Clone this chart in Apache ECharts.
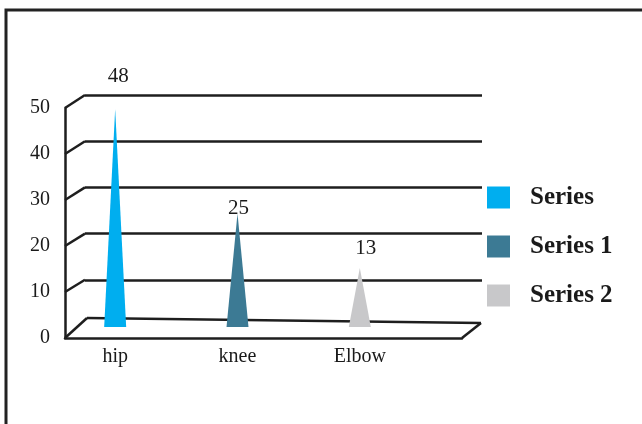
<!DOCTYPE html>
<html>
<head>
<meta charset="utf-8">
<script src="https://cdn.jsdelivr.net/npm/echarts@6/dist/echarts.min.js"></script>
<style>
  html, body { margin: 0; padding: 0; background: #fff; }
  #chart { width: 642px; height: 424px; }
</style>
</head>
<body>
<div id="chart"></div>
<script>
// data
const categories = ['hip', 'knee', 'Elbow'];
const values = [48, 25, 13];
const seriesNames = ['Series', 'Series 1', 'Series 2'];
const colors = ['#00aeef', '#3c7a94', '#c8c8ca'];
const yTicks = [0, 10, 20, 30, 40, 50];

// where the value text sits next to each tip
const labelLift = [22, -5, 9];
const labelShift = [3, 1, 6];

const serif = '"Liberation Serif", "Times New Roman", serif';
const lineColor = '#1e1e1e';
const textColor = '#1a1a1a';

const chartElement = document.getElementById('chart');
const chart = echarts.init(chartElement);

function coneSeries(i) {
    return {
        type: 'custom',
        name: seriesNames[i],
        xAxisIndex: 2,
        yAxisIndex: 2,
        z: 5,
        itemStyle: { color: colors[i] },
        data: [[i, values[i]]],
        renderItem: (params, api) => {
            const base = api.coord([api.value(0), 0]);
            const tip = api.coord([api.value(0), api.value(1)]);
            const half = 11;
            return {
                type: 'group',
                children: [
                    {
                        type: 'polygon',
                        shape: { points: [[base[0] - half, base[1]], [base[0] + half, base[1]], tip] },
                        style: { fill: colors[i] }
                    },
                    {
                        type: 'text',
                        x: tip[0] + labelShift[i],
                        y: tip[1] - labelLift[i],
                        style: {
                            text: String(values[i]),
                            fill: textColor,
                            font: '21px ' + serif,
                            align: 'center',
                            verticalAlign: 'bottom'
                        }
                    }
                ]
            };
        }
    };
}

const option = {
    animation: false,
    backgroundColor: '#fff',
    grid: [
        // back wall
        { left: 85, right: 160, top: 95, bottom: 98 },
        // front axis
        { left: 65, right: 180, top: 108, bottom: 86 },
        // cones
        { left: 54, right: 221, top: 100, bottom: 97 }
    ],
    xAxis: [
        { gridIndex: 0, type: 'category', data: categories, show: false },
        {
            gridIndex: 1, type: 'category', data: categories,
            axisLine: { lineStyle: { color: lineColor, width: 2.5 } },
            axisTick: { show: false }, axisLabel: { show: false }
        },
        {
            gridIndex: 2, type: 'category', data: categories,
            axisLine: { show: false }, axisTick: { show: false },
            axisLabel: { color: textColor, fontSize: 20, fontFamily: serif, margin: 20 }
        }
    ],
    yAxis: [
        {
            gridIndex: 0, type: 'value', min: 0, max: 50, interval: 10,
            axisLine: { show: false }, axisTick: { show: false }, axisLabel: { show: false },
            splitLine: { showMinLine: false, lineStyle: { color: lineColor, width: 2.5 } }
        },
        {
            gridIndex: 1, type: 'value', min: 0, max: 50, interval: 10,
            axisLine: { show: true, lineStyle: { color: lineColor, width: 2.5 } },
            axisTick: { show: false }, splitLine: { show: false },
            axisLabel: { color: textColor, fontSize: 20, fontFamily: serif, margin: 15 }
        },
        { gridIndex: 2, type: 'value', min: 0, max: 50, show: false }
    ],
    legend: {
        orient: 'vertical',
        left: 482,
        top: 180,
        itemWidth: 23,
        itemHeight: 22,
        itemGap: 24,
        icon: 'rect',
        data: seriesNames,
        textStyle: {
            color: textColor, fontSize: 25, fontWeight: 'bold', fontFamily: serif,
            padding: [0, 0, 0, 15]
        }
    },
    series: [coneSeries(0), coneSeries(1), coneSeries(2)]
};

chart.setOption(option);

// the slanted bits: tick joints, floor and frame
const graphics = [];
const depthX = 20;
yTicks.forEach(v => {
    const front = chart.convertToPixel({ yAxisIndex: 1 }, v);
    const back = v === 0 ? 318 : chart.convertToPixel({ yAxisIndex: 0 }, v);
    graphics.push({
        type: 'line', z: 1,
        shape: { x1: 65, y1: front, x2: 65 + depthX + (v === 0 ? 2 : 0), y2: back },
        style: { stroke: lineColor, lineWidth: 2.5 }
    });
});
const floorFront = chart.convertToPixel({ yAxisIndex: 1 }, 0);
graphics.push({
    type: 'line', z: 1,
    shape: { x1: 87, y1: 318, x2: 481, y2: 323 },
    style: { stroke: lineColor, lineWidth: 2.5 }
});
graphics.push({
    type: 'line', z: 1,
    shape: { x1: 462, y1: floorFront, x2: 481, y2: 323 },
    style: { stroke: lineColor, lineWidth: 2.5 }
});
graphics.push({
    type: 'rect', z: 1,
    shape: { x: 6, y: 10, width: 700, height: 500 },
    style: { fill: 'none', stroke: '#222', lineWidth: 3 }
});
chart.setOption({ graphic: graphics });
</script>
</body>
</html>
